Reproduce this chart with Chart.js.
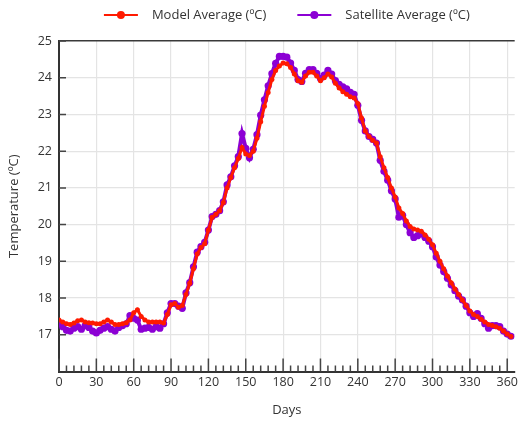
<!DOCTYPE html>
<html>
<head>
<meta charset="utf-8">
<script src="https://cdn.jsdelivr.net/npm/chart.js@4/dist/chart.umd.min.js"></script>
<style>
  body { margin: 0; background: #fff; }
  #wrap { width: 521px; height: 421px; }
</style>
</head>
<body>
<div id="wrap"><canvas id="chart" width="521" height="421"></canvas></div>
<script>
// day of year (every 3rd day)
var days = [0, 3, 6, 9, 12, 15, 18, 21, 24, 27, 30, 33, 36, 39, 42, 45, 48, 51, 54, 57,
    60, 63, 66, 69, 72, 75, 78, 81, 84, 87, 90, 93, 96, 99, 102, 105, 108, 111, 114, 117,
    120, 123, 126, 129, 132, 135, 138, 141, 144, 147, 150, 153, 156, 159, 162, 165, 168, 171, 174, 177,
    180, 183, 186, 189, 192, 195, 198, 201, 204, 207, 210, 213, 216, 219, 222, 225, 228, 231, 234, 237,
    240, 243, 246, 249, 252, 255, 258, 261, 264, 267, 270, 273, 276, 279, 282, 285, 288, 291, 294, 297,
    300, 303, 306, 309, 312, 315, 318, 321, 324, 327, 330, 333, 336, 339, 342, 345, 348, 351, 354, 357,
    360, 363];

var modelAvg = [17.40, 17.35, 17.30, 17.28, 17.32, 17.38, 17.40, 17.35, 17.33, 17.32,
    17.30, 17.30, 17.35, 17.40, 17.35, 17.28, 17.28, 17.30, 17.33, 17.40,
    17.60, 17.68, 17.50, 17.40, 17.35, 17.35, 17.35, 17.35, 17.32, 17.55,
    17.82, 17.85, 17.75, 17.80, 18.10, 18.40, 18.80, 19.20, 19.38, 19.48,
    19.85, 20.20, 20.28, 20.38, 20.60, 21.00, 21.28, 21.55, 21.80, 22.10,
    21.92, 21.88, 22.00, 22.35, 22.80, 23.22, 23.60, 23.95, 24.20, 24.32,
    24.40, 24.38, 24.28, 24.10, 23.92, 23.88, 24.05, 24.15, 24.15, 24.05,
    23.92, 24.00, 24.10, 24.02, 23.85, 23.72, 23.62, 23.55, 23.48, 23.45,
    23.30, 22.90, 22.55, 22.40, 22.30, 22.22, 21.85, 21.55, 21.28, 21.00,
    20.75, 20.45, 20.30, 20.10, 19.95, 19.88, 19.85, 19.82, 19.72, 19.60,
    19.45, 19.22, 19.00, 18.80, 18.60, 18.42, 18.25, 18.10, 17.95, 17.80,
    17.65, 17.55, 17.50, 17.42, 17.35, 17.28, 17.25, 17.22, 17.18, 17.10,
    17.02, 16.95];

var satelliteAvg = [17.32, 17.22, 17.12, 17.10, 17.18, 17.22, 17.15, 17.25, 17.20, 17.10,
    17.05, 17.12, 17.18, 17.22, 17.15, 17.10, 17.20, 17.25, 17.30, 17.52,
    17.45, 17.40, 17.15, 17.18, 17.20, 17.15, 17.22, 17.18, 17.30, 17.60,
    17.85, 17.85, 17.78, 17.72, 18.14, 18.42, 18.85, 19.25, 19.40, 19.52,
    19.85, 20.22, 20.28, 20.38, 20.62, 21.08, 21.30, 21.60, 21.85, 22.48,
    22.08, 21.82, 22.05, 22.45, 22.98, 23.40, 23.78, 24.11, 24.39, 24.58,
    24.58, 24.56, 24.40, 24.20, 23.95, 23.90, 24.12, 24.22, 24.22, 24.12,
    23.98, 24.07, 24.20, 24.10, 23.92, 23.82, 23.75, 23.70, 23.60, 23.55,
    23.25, 22.84, 22.55, 22.40, 22.32, 22.22, 21.75, 21.45, 21.21, 20.92,
    20.70, 20.20, 20.25, 20.00, 19.78, 19.65, 19.70, 19.75, 19.65, 19.55,
    19.40, 19.12, 18.90, 18.72, 18.54, 18.36, 18.20, 18.05, 17.95, 17.78,
    17.60, 17.50, 17.58, 17.45, 17.30, 17.18, 17.25, 17.25, 17.22, 17.10,
    17.02, 16.96];

var xTicks = [0, 30, 60, 90, 120, 150, 180, 210, 240, 270, 300, 330, 360];
var xMinorStep = 6;
var yTicks = [17, 18, 19, 20, 21, 22, 23, 24, 25];

var FONT = '"Open Sans", "Noto Sans", sans-serif';
var INK = "#333333";

function toPoints(values) {
    return days.map(function (d, i) { return { x: d, y: values[i] }; });
}

// legend: short line with a dot, centred over the plot area
var lineLegend = {
    id: "lineLegend",
    afterDraw: function (chart) {
        var ctx = chart.ctx;
        var area = chart.chartArea;
        ctx.save();
        ctx.font = "13px " + FONT;
        var items = chart.data.datasets.map(function (ds) {
            return { ds: ds, w: ctx.measureText(ds.label).width };
        });
        var total = 0;
        items.forEach(function (it) { total += 34 + 14 + it.w; });
        total += 31 * (items.length - 1);
        var x = (area.left + area.right) / 2 - total / 2;
        var y = 15;
        items.forEach(function (it) {
            ctx.strokeStyle = it.ds.borderColor;
            ctx.lineWidth = 1.8;
            ctx.beginPath();
            ctx.moveTo(x, y);
            ctx.lineTo(x + 34, y);
            ctx.stroke();
            ctx.fillStyle = it.ds.borderColor;
            ctx.beginPath();
            ctx.arc(x + 17, y, 4, 0, Math.PI * 2);
            ctx.fill();
            x += 48;
            ctx.fillStyle = INK;
            ctx.textBaseline = "middle";
            ctx.fillText(it.ds.label, x, y);
            x += it.w + 31;
        });
        ctx.restore();
    }
};

// tick marks pointing into the plot
var innerTicks = {
    id: "innerTicks",
    beforeDatasetsDraw: function (chart) {
        var ctx = chart.ctx;
        var xs = chart.scales.x, ys = chart.scales.y;
        ctx.save();
        ctx.strokeStyle = "#444";
        ctx.lineWidth = 1.5;
        ctx.beginPath();
        for (var d = 0; d <= xTicks[xTicks.length - 1]; d += xMinorStep) {
            var px = xs.getPixelForValue(d);
            var len = xTicks.indexOf(d) >= 0 ? 13 : 6;
            ctx.moveTo(px, ys.bottom);
            ctx.lineTo(px, ys.bottom - len);
        }
        yTicks.forEach(function (t) {
            var py = ys.getPixelForValue(t);
            ctx.moveTo(xs.left, py);
            ctx.lineTo(xs.left + 7, py);
        });
        ctx.stroke();
        ctx.restore();
    }
};

new Chart("chart", {
    type: "line",
    data: {
        datasets: [{
            label: "Model Average (ºC)",
            data: toPoints(modelAvg),
            borderColor: "#ff1a00",
            backgroundColor: "#ff1a00",
            borderWidth: 3,
            pointRadius: 2.5,
            pointBorderWidth: 0,
            tension: 0
        },
        {
            label: "Satellite Average (ºC)",
            data: toPoints(satelliteAvg),
            borderColor: "#8c00d4",
            backgroundColor: "#8c00d4",
            borderWidth: 4,
            pointRadius: 3.6,
            pointBorderWidth: 0,
            tension: 0
        }]
    },
    options: {
        responsive: false,
        animation: false,
        layout: { padding: { top: 41, right: 3, left: 0, bottom: 0 } },
        plugins: {
            legend: { display: false },
            tooltip: { enabled: false }
        },
        scales: {
            x: {
                type: "linear",
                min: 0,
                max: 366,
                afterBuildTicks: function (scale) {
                    scale.ticks = xTicks.map(function (v) { return { value: v }; });
                },
                afterFit: function (scale) { scale.height = 49.5; },
                ticks: { color: INK, font: { family: FONT, size: 12.5 }, padding: 3, maxRotation: 0 },
                grid: { color: "#e4e4e4", lineWidth: 1.2, drawTicks: false },
                border: { color: INK, width: 2 },
                title: { display: true, text: "Days", color: INK, font: { family: FONT, size: 13 }, padding: { top: 0, bottom: 3 } }
            },
            y: {
                min: 16,
                max: 25,
                afterBuildTicks: function (scale) {
                    scale.ticks = [16].concat(yTicks).map(function (v) { return { value: v }; });
                },
                afterFit: function (scale) { scale.width = 59; },
                ticks: {
                    color: INK,
                    font: { family: FONT, size: 12.5 },
                    padding: 7,
                    callback: function (v) { return v === 16 ? "" : v; }
                },
                grid: {
                    drawTicks: false,
                    color: function (c) { return c.tick && c.tick.value === 25 ? "#3a3a3a" : "#e4e4e4"; },
                    lineWidth: function (c) { return c.tick && c.tick.value === 25 ? 1.6 : 1.2; }
                },
                border: { color: INK, width: 2 },
                title: { display: true, text: "Temperature (ºC)", color: INK, font: { family: FONT, size: 13 }, padding: { top: 6, bottom: 0 } }
            }
        }
    },
    plugins: [innerTicks, lineLegend]
});
</script>
</body>
</html>
